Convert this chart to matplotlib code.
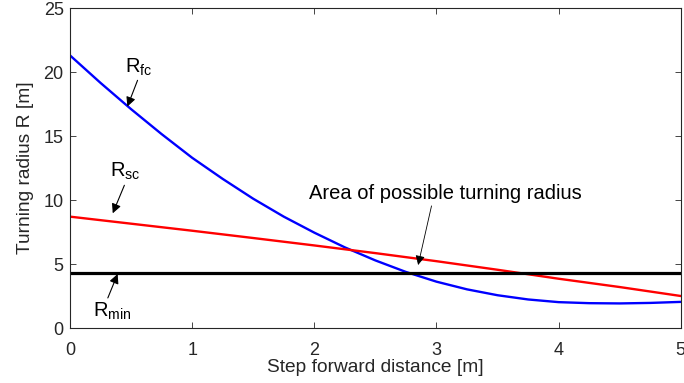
import numpy as np
import matplotlib.pyplot as plt

plt.rcParams['font.family'] = ['Liberation Sans', 'DejaVu Sans']
plt.rcParams['mathtext.fontset'] = 'custom'
plt.rcParams['mathtext.rm'] = 'Liberation Sans'
plt.rcParams['mathtext.it'] = 'Liberation Sans'

# values
x_fc = [0, 0.25, 0.5, 0.75, 1.0, 1.25, 1.5, 1.75, 2.0, 2.25, 2.5,
        2.75, 3.0, 3.25, 3.5, 3.75, 4.0, 4.25, 4.5, 4.75, 5.0]
r_fc = [21.3, 19.15, 17.1, 15.15, 13.3, 11.65, 10.1, 8.7, 7.45, 6.3, 5.28,
        4.38, 3.62, 3.02, 2.56, 2.23, 2.02, 1.94, 1.92, 1.96, 2.04]
x_sc = [0, 0.5, 1.0, 1.5, 2.0, 2.5, 3.0, 3.5, 4.0, 4.5, 5.0]
r_sc = [8.7, 8.15, 7.6, 7.03, 6.45, 5.85, 5.22, 4.55, 3.85, 3.2, 2.5]
x_min = [0, 5]
r_min = [4.32, 4.32]

xticks = [0, 1, 2, 3, 4, 5]
yticks = [0, 5, 10, 15, 20, 25]

fig = plt.figure(figsize=(6.84, 3.83), dpi=100)
ax = fig.add_axes([0.1023, 0.1436, 0.893, 0.8355])

ax.plot(x_fc, r_fc, color='#0000ff', lw=1.7)
ax.plot(x_sc, r_sc, color='#ff0000', lw=1.7)
ax.plot(x_min, r_min, color='k', lw=2.3)

ax.set_xlim(0, 5)
ax.set_ylim(0, 25)
ax.set_xticks(xticks)
ax.set_yticks(yticks)
ax.tick_params(direction='in', top=True, right=True, length=4, width=0.6,
               colors='#262626', labelsize=13)
ax.tick_params(axis='x', pad=10)
ax.tick_params(axis='y', pad=4.5)
for s in ax.spines.values():
    s.set_color('#262626')
    s.set_linewidth(0.8)

ax.set_xlabel('Step forward distance [m]', fontsize=13.8, color='#262626', labelpad=0)
ax.set_ylabel('Turning radius R [m]', fontsize=13.8, color='#262626', labelpad=7)

arrow = dict(arrowstyle='-|>', color='k', lw=0.8, mutation_scale=14, shrinkA=0, shrinkB=0)
ax.annotate(r'$\mathrm{R_{fc}}$', xy=(0.47, 17.3), xytext=(0.45, 20.4),
            fontsize=14.5, ha='left', va='center', arrowprops=dict(arrow, relpos=(0.5, 0)))
ax.annotate(r'$\mathrm{R_{sc}}$', xy=(0.35, 8.96), xytext=(0.33, 12.2),
            fontsize=14.5, ha='left', va='center', arrowprops=dict(arrow, relpos=(0.5, 0)))
ax.annotate(r'$\mathrm{R_{min}}$', xy=(0.39, 4.22), xytext=(0.19, 1.3),
            fontsize=14.5, ha='left', va='center', arrowprops=dict(arrow, relpos=(0.35, 1.0)))
ax.annotate('Area of possible turning radius', xy=(2.85, 4.92), xytext=(1.96, 10.5),
            fontsize=14.5, ha='left', va='center', color='k',
            arrowprops=dict(arrow, lw=0.6, relpos=(0.45, 0)))

fig.savefig('out.png', dpi=100)
